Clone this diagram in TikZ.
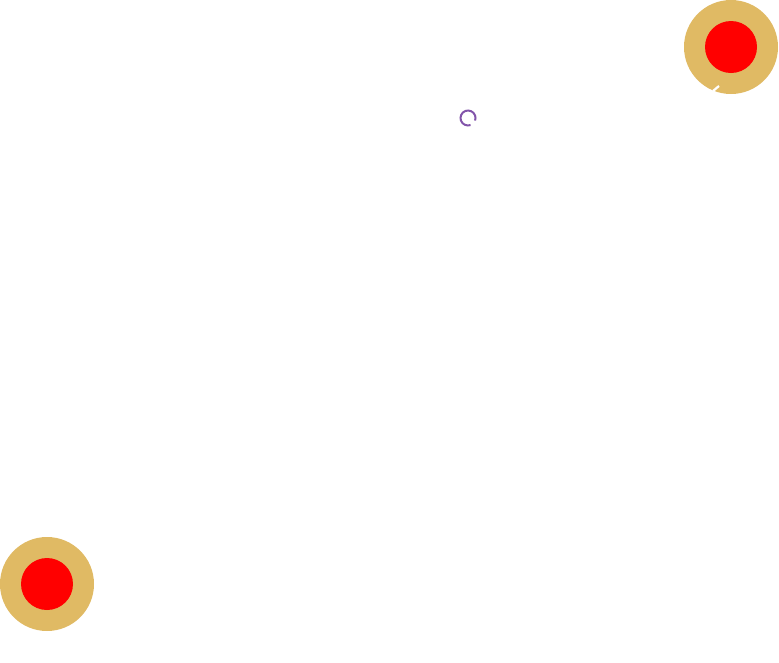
\documentclass[tikz,border=0pt]{standalone}
\definecolor{tan}{RGB}{224,186,100}
\definecolor{dotred}{RGB}{255,0,0}
\definecolor{ringpurple}{RGB}{130,84,170}
\begin{document}
\begin{tikzpicture}[x=1pt,y=-1pt,
  outerdisc/.style={circle,fill=tan,minimum size=94pt,inner sep=0pt,draw=none},
  innerdisc/.style={circle,fill=dotred,minimum size=52pt,inner sep=0pt,draw=none}]
\useasboundingbox (0,0) rectangle (779,662);
\node[outerdisc] (tr) at (731,47) {};
\node[innerdisc] (tri) at (731,47) {};
\node[outerdisc] (bl) at (47,584) {};
\node[innerdisc] (bli) at (47,584) {};
\draw[ringpurple,line width=2pt] (468,118) ++(70:7.5) arc[start angle=70,end angle=380,radius=7.5];
\coordinate (t1) at (713,91);
\coordinate (t2) at (719,86);
\draw[white,line width=2.2pt] (t1) -- (t2);
\end{tikzpicture}
\end{document}
